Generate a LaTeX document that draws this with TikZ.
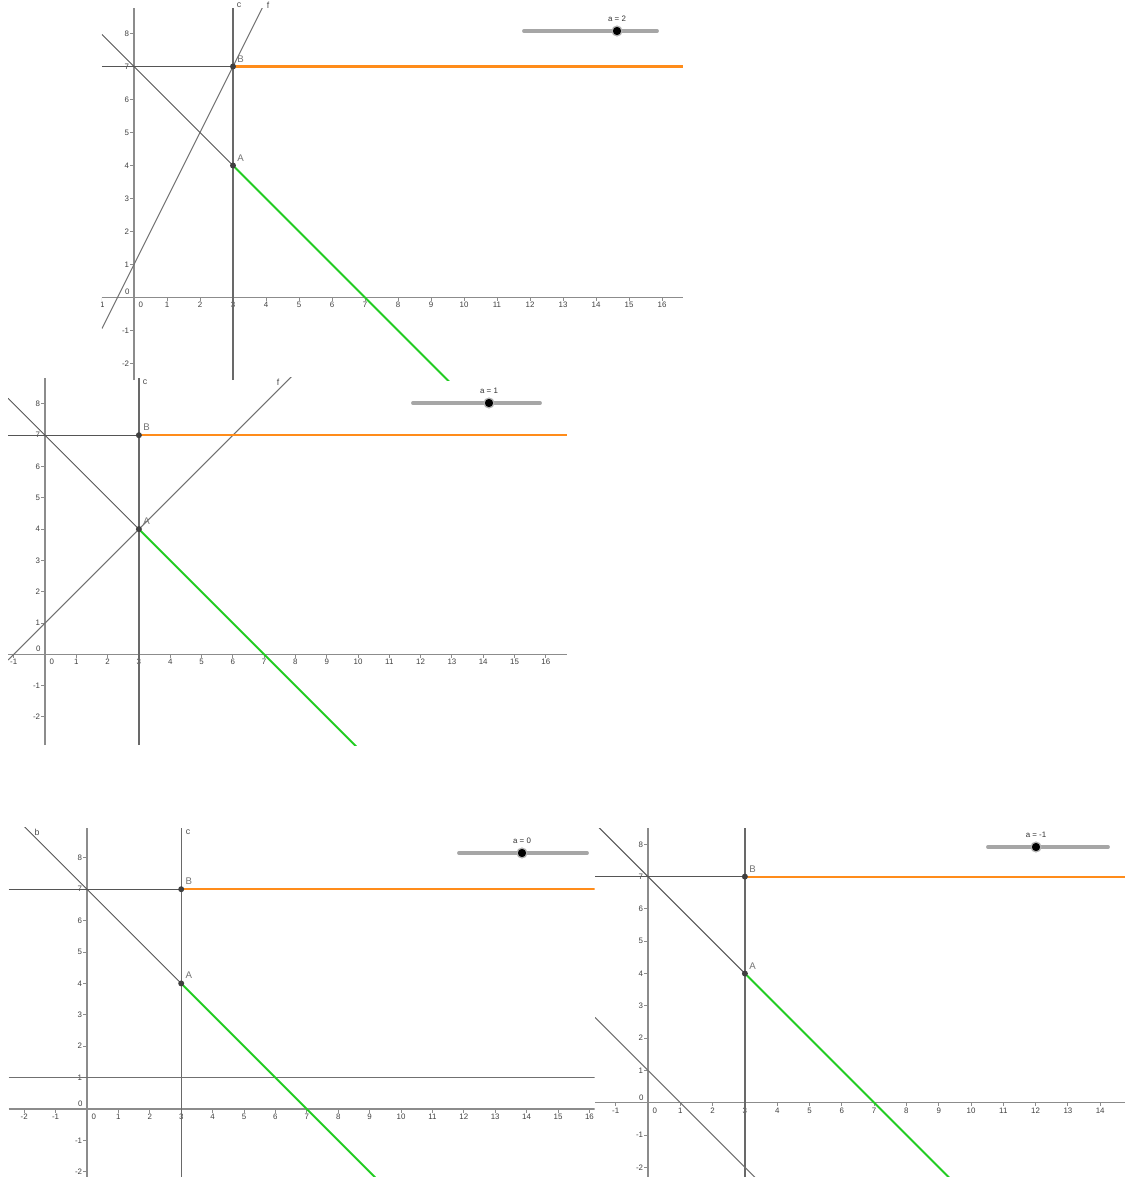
\documentclass[tikz,border=0pt]{standalone}
\usepackage{fontspec}
\setmainfont{Liberation Sans}
\usetikzlibrary{positioning}
\definecolor{raygreen}{HTML}{22CC22}
\definecolor{rayorange}{HTML}{FF8C1A}
\definecolor{axisgray}{HTML}{8C8C8C}
\definecolor{linegray}{HTML}{555555}

% one GeoGebra view: origin (px), unit (px), xmin, xmax, ymin, ymax, a, tag
\newcommand{\graphpanel}[9]{%
  \begin{scope}[shift={(#1,#2)}, x=#3*0.02cm, y=#3*0.02cm]
    \clip (#4,#6) rectangle (#5,#7);
    \pgfmathtruncatemacro{\xlo}{ceil(#4-0.3)}
    \pgfmathtruncatemacro{\xhi}{floor(#5)}
    \pgfmathtruncatemacro{\ylo}{ceil(#6)}
    \pgfmathtruncatemacro{\yhi}{floor(#7)}
    \draw[axisline] (#4,0) -- (#5,0);
    \draw[axisline] (0,#6) -- (0,#7);
    \foreach \i in {\xlo,...,\xhi}{
      \ifnum\i=0 \else
        \draw[axisline, line width=0.5pt] (\i,0) -- ++(0,-2pt);
        \node[ticklbl, anchor=north, yshift=-2.6pt] (x#9\i) at (\i,0) {\i};
      \fi}
    \foreach \j in {\ylo,...,\yhi}{
      \ifnum\j=0 \else
        \draw[axisline, line width=0.5pt] (0,\j) -- ++(-2pt,0);
        \node[ticklbl, anchor=east, xshift=-2.6pt] (y#9\j) at (0,\j) {\j};
      \fi}
    \node[ticklbl, anchor=north west, xshift=2.4pt, yshift=-2.6pt] (x#9z) at (0,0) {0};
    \node[ticklbl, anchor=south east, xshift=-2.4pt, yshift=1.2pt] (y#9z) at (0,0) {0};
    \coordinate (A#9) at (3,4);
    \coordinate (B#9) at (3,7);
    \coordinate (bl#9) at (#4,{7-(#4)});
    \coordinate (br#9) at (#5,{7-(#5)});
    \coordinate (hl#9) at (#4,7);
    \coordinate (hr#9) at (#5,7);
    \coordinate (fl#9) at (#4,{#8*(#4)+1});
    \coordinate (fr#9) at (#5,{#8*(#5)+1});
    \draw[cline] (3,#6) -- (3,#7);
    \draw[fline] (fl#9) -- (fr#9);
    \draw[thinline] (hl#9) -- (B#9);
    \draw[thinline] (bl#9) -- (A#9);
    \draw[greenray] (A#9) -- (br#9);
    \draw[orangeray] (B#9) -- (hr#9);
    \node[dot, label={[ptlbl]above right:A}] (Ad#9) at (A#9) {};
    \node[dot, label={[ptlbl]above right:B}] (Bd#9) at (B#9) {};
  \end{scope}}

\begin{document}
\begin{tikzpicture}[x=0.02cm, y=-0.02cm,
    every node/.style={font=\fontsize{4.5}{5}\selectfont},
    axisline/.style={draw=axisgray, line width=0.8pt},
    cline/.style={draw=axisgray!75!black, line width=0.75pt},
    fline/.style={draw=axisgray!80!black, line width=0.6pt},
    thinline/.style={draw=linegray, line width=0.55pt},
    greenray/.style={draw=raygreen, line width=1.1pt},
    orangeray/.style={draw=rayorange, line width=1.2pt},
    ticklbl/.style={inner sep=0pt, text=black!75},
    dot/.style={circle, fill=black!75, minimum size=3.4pt, inner sep=0pt},
    ptlbl/.style={font=\fontsize{5.5}{6}\selectfont, text=black!55, inner sep=1pt},
    linelbl/.style={font=\fontsize{5}{6}\selectfont, text=black!70, inner sep=0pt},
    slider/.style={draw=gray!70, line width=2.2pt, line cap=round},
    knob/.style={circle, fill=black, draw=gray!60, line width=0.7pt,
                 minimum size=5.6pt, inner sep=0pt},
    sliderlbl/.style={inner sep=0pt, text=black!80}
]
    \useasboundingbox (0,0) rectangle (1130,1177);

    \graphpanel{134}{297.5}{33}{-0.97}{16.64}{-2.5}{8.77}{2}{p1}
    \graphpanel{45}{654.3}{31.3}{-1.18}{16.68}{-2.9}{8.83}{1}{p2}
    \graphpanel{87}{1109}{31.4}{-2.5}{16.17}{-2.15}{8.95}{0}{p3}
    \graphpanel{648}{1102.7}{32.3}{-1.64}{14.77}{-2.3}{8.5}{-1}{p4}

    % line names at the top edge
    \node[linelbl] (c1) at (239,5) {c};
    \node[linelbl] (f1) at (268,5) {f};
    \node[linelbl] (c2) at (145,382) {c};
    \node[linelbl] (f2) at (278,382) {f};
    \node[linelbl] (b3) at (37,832) {b};
    \node[linelbl] (c3) at (188,832) {c};

    % sliders
    \coordinate (s1a) at (524,31);   \coordinate (s1b) at (657,31);
    \coordinate (s2a) at (413,403);  \coordinate (s2b) at (540,403);
    \coordinate (s3a) at (459,853);  \coordinate (s3b) at (587,853);
    \coordinate (s4a) at (988,847);  \coordinate (s4b) at (1108,847);
    \draw[slider] (s1a) -- (s1b);
    \draw[slider] (s2a) -- (s2b);
    \draw[slider] (s3a) -- (s3b);
    \draw[slider] (s4a) -- (s4b);
    \node[knob] (k1) at (617,31) {};
    \node[knob] (k2) at (489,403) {};
    \node[knob] (k3) at (522,853) {};
    \node[knob] (k4) at (1036,847) {};
    \node[sliderlbl, above=2.2pt of k1] (a1) {a = 2};
    \node[sliderlbl, above=2.2pt of k2] (a2) {a = 1};
    \node[sliderlbl, above=2.2pt of k3] (a3) {a = 0};
    \node[sliderlbl, above=2.2pt of k4] (a4) {a = -1};
\end{tikzpicture}
\end{document}
